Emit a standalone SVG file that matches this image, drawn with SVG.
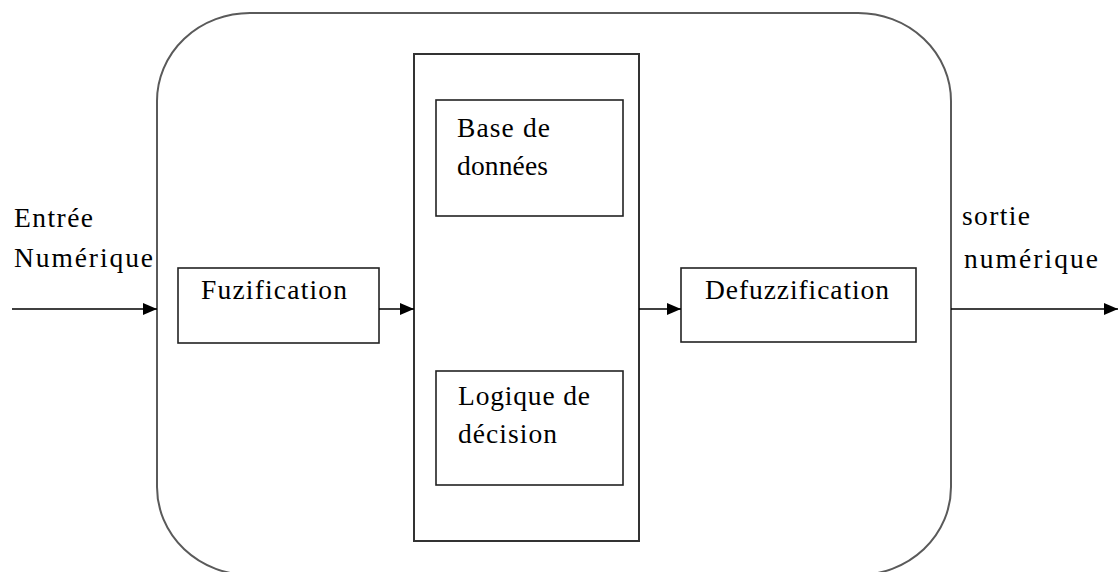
<svg xmlns="http://www.w3.org/2000/svg" width="1118" height="572" viewBox="0 0 1118 572">
<defs>
<style>
.lbl{font-family:"Liberation Serif","Times New Roman",serif;font-size:27.5px;fill:#000}
.box{fill:#fff;stroke:#222;stroke-width:1.6}
.conn{stroke:#000;stroke-width:1.6;fill:none}
</style>
<marker id="ah" viewBox="0 0 14 12" refX="14" refY="6" markerWidth="14" markerHeight="12" markerUnits="userSpaceOnUse" orient="auto">
<path d="M0,0 L14,6 L0,12 Z" fill="#000"/>
</marker>
</defs>
<rect width="1118" height="572" fill="#fff"/>
<g id="system">
<rect x="157" y="13" width="794" height="562" rx="93" ry="88" fill="none" stroke="#5a5a5a" stroke-width="2"/>
</g>
<g id="inference">
<rect x="414" y="54" width="225" height="487" fill="#fff" stroke="#333" stroke-width="2"/>
</g>
<g id="base">
<rect class="box" x="436" y="100" width="187" height="116"/>
<text class="lbl" x="457" y="137" textLength="93" lengthAdjust="spacing">Base de</text>
<text class="lbl" x="457" y="175" textLength="91" lengthAdjust="spacing">données</text>
</g>
<g id="logique">
<rect class="box" x="436" y="371" width="187" height="114"/>
<text class="lbl" x="458" y="405" textLength="132" lengthAdjust="spacing">Logique de</text>
<text class="lbl" x="458" y="443" textLength="99" lengthAdjust="spacing">décision</text>
</g>
<g id="fuzification">
<rect class="box" x="178" y="268" width="201" height="75"/>
<text class="lbl" x="201" y="299" textLength="146" lengthAdjust="spacing">Fuzification</text>
</g>
<g id="defuzzification">
<rect class="box" x="681" y="268" width="235" height="74"/>
<text class="lbl" x="705" y="299" textLength="184" lengthAdjust="spacing">Defuzzification</text>
</g>
<g id="entree">
<text class="lbl" x="14" y="227" textLength="79" lengthAdjust="spacing">Entrée</text>
<text class="lbl" x="14" y="267" textLength="139" lengthAdjust="spacing">Numérique</text>
</g>
<g id="sortie">
<text class="lbl" x="962" y="225" textLength="68" lengthAdjust="spacing">sortie</text>
<text class="lbl" x="964" y="268" textLength="134" lengthAdjust="spacing">numérique</text>
</g>
<g id="connectors">
<line class="conn" x1="12" y1="309" x2="157" y2="309" marker-end="url(#ah)"/>
<line class="conn" x1="379" y1="309" x2="414" y2="309" marker-end="url(#ah)"/>
<line class="conn" x1="639" y1="309" x2="681" y2="309" marker-end="url(#ah)"/>
<line class="conn" x1="951" y1="309" x2="1118" y2="309" marker-end="url(#ah)"/>
</g>
</svg>
